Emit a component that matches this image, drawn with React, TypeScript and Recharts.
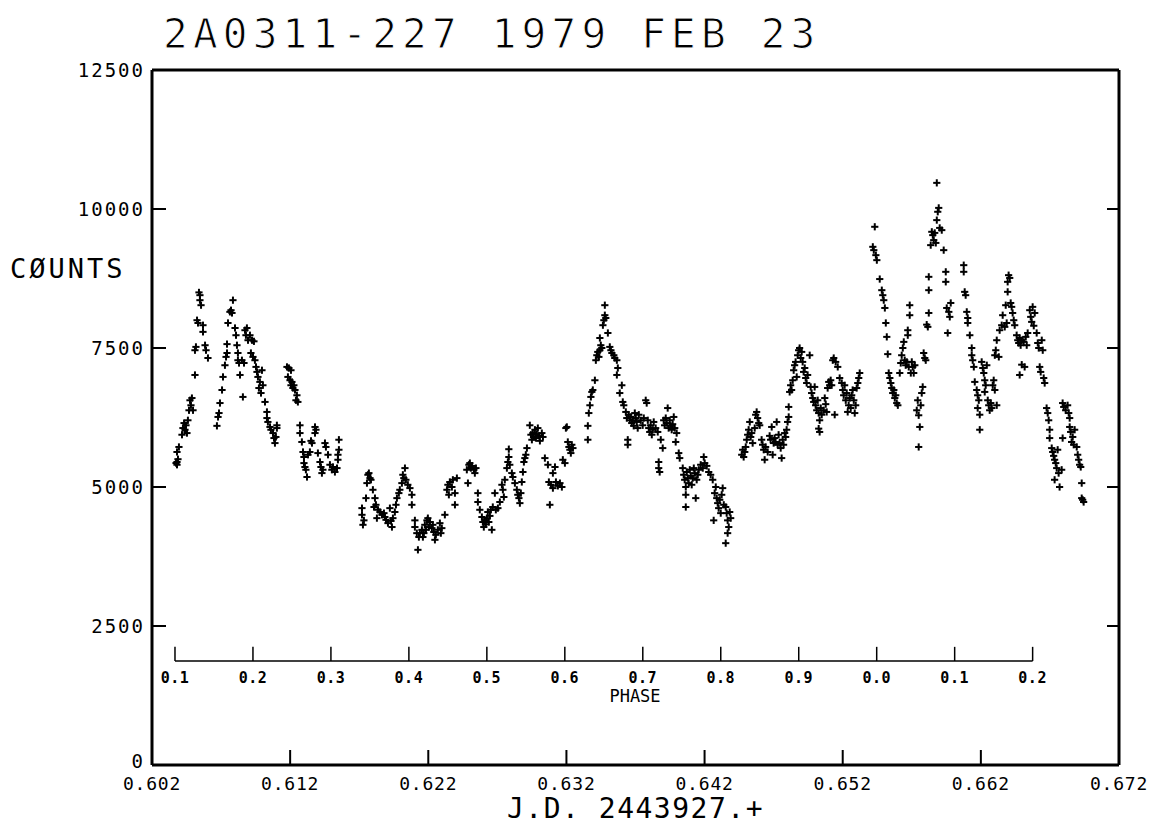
import { ScatterChart, Scatter, XAxis, YAxis, ReferenceLine } from 'recharts';

// [J.D. - 2443927, counts], one group per stretch of the light curve
const seg01 = [
  [0.60374, 5430], [0.60381, 5450], [0.60381, 5400], [0.60388, 5500], [0.60381, 5630], [0.60395, 5720],
  [0.60417, 5940], [0.60424, 6060], [0.60432, 6150], [0.60439, 6030], [0.60446, 6110], [0.60453, 5970],
  [0.6046, 6200], [0.60468, 6380], [0.60475, 6560], [0.60482, 6470], [0.60489, 6600], [0.60497, 6380],
  [0.60511, 7015], [0.60511, 7460], [0.60518, 7520], [0.60526, 8000], [0.60533, 7950], [0.6054, 8500],
  [0.60547, 8450], [0.60547, 8360], [0.60555, 8270], [0.60569, 7910], [0.60569, 7790], [0.60584, 7550],
  [0.60591, 7460], [0.60605, 7320],
];
const seg02 = [
  [0.6067, 6100], [0.60678, 6260], [0.60685, 6330], [0.60692, 6510], [0.60707, 6745], [0.60714, 6980],
  [0.60728, 7190], [0.60736, 7340], [0.60743, 7410], [0.60743, 7570], [0.6075, 7950], [0.60764, 8150],
  [0.60772, 8180], [0.60779, 8130], [0.60786, 8360], [0.60801, 7860], [0.60808, 7730], [0.60815, 7550],
  [0.60822, 7410], [0.60822, 7280], [0.6083, 7230], [0.60837, 7015], [0.60858, 6620], [0.60851, 7280],
  [0.60866, 7230], [0.60873, 7820], [0.6088, 7730], [0.60887, 7860], [0.60895, 7640], [0.60909, 7730],
  [0.60924, 7640], [0.60938, 7620], [0.60916, 7410], [0.60931, 7340], [0.60945, 7280], [0.60953, 7160],
  [0.6096, 7070], [0.60967, 6980], [0.60981, 6890], [0.60996, 7100], [0.60974, 6780], [0.60989, 6690],
  [0.61003, 6830], [0.61018, 6530], [0.61032, 6350], [0.61032, 6240], [0.61039, 6170], [0.61054, 6080],
  [0.61061, 6030], [0.61076, 5970], [0.61083, 5880], [0.6109, 5790], [0.61097, 5900], [0.61104, 6110],
  [0.61104, 6060],
];
const seg03 = [
  [0.61177, 7160], [0.61191, 7140], [0.61206, 7100], [0.61184, 6980], [0.61199, 6920], [0.61206, 6830],
  [0.61213, 6890], [0.6122, 6780], [0.61227, 6830], [0.61235, 6745], [0.61249, 6650], [0.61242, 6560],
  [0.61256, 6530],
];
const seg04 = [
  [0.61271, 6110], [0.61271, 5970], [0.61285, 5810], [0.61293, 5630], [0.613, 5540], [0.613, 5430],
  [0.61307, 5360], [0.61314, 5310], [0.61322, 5180], [0.61329, 5580], [0.61343, 5630], [0.61351, 5830],
  [0.61358, 5790], [0.6138, 6080], [0.6138, 5970], [0.61387, 6030], [0.61401, 5610], [0.61416, 5450],
  [0.61423, 5360], [0.6143, 5250], [0.61437, 5310], [0.61452, 5790], [0.61459, 5720], [0.61474, 5580],
  [0.61488, 5400], [0.61502, 5310], [0.6151, 5360], [0.61524, 5270], [0.61539, 5340], [0.61546, 5580],
  [0.61546, 5490], [0.61553, 5670], [0.61553, 5850],
];
const seg05 = [
  [0.6172, 4620], [0.6172, 4500], [0.61727, 4320], [0.61734, 4400], [0.61749, 4800], [0.61756, 5070],
  [0.61763, 5220], [0.6177, 5250], [0.61778, 5160], [0.61785, 5130], [0.61799, 4950], [0.61814, 4800],
  [0.61807, 4640], [0.61821, 4680], [0.61828, 4440], [0.61836, 4590], [0.6185, 4550], [0.61865, 4500],
  [0.61879, 4530], [0.61886, 4460], [0.61894, 4410], [0.61908, 4350], [0.61922, 4620], [0.6193, 4390],
  [0.61937, 4280], [0.61944, 4440], [0.61958, 4550], [0.61966, 4680], [0.61973, 4800], [0.61987, 4890],
  [0.61994, 4950], [0.62009, 5070], [0.62016, 5220], [0.62023, 5160], [0.62031, 5340], [0.62038, 5130],
  [0.62052, 5040], [0.62067, 4980], [0.62081, 4860], [0.62081, 4680], [0.62103, 4400], [0.62103, 4280],
  [0.62117, 4170], [0.62125, 3870], [0.62132, 4100], [0.62139, 4170], [0.62154, 4230], [0.62161, 4100],
  [0.62168, 4170], [0.62175, 4320], [0.62183, 4230], [0.6219, 4400], [0.62197, 4440], [0.62204, 4280],
  [0.62212, 4370], [0.62226, 4260], [0.62233, 4320], [0.6224, 4190], [0.62248, 4050], [0.62255, 4140],
  [0.62269, 4230], [0.62284, 4350], [0.62291, 4170], [0.62298, 4260], [0.6232, 4500], [0.62335, 4950],
  [0.62342, 5040], [0.62349, 4860], [0.62356, 5090], [0.62371, 5000], [0.62378, 5130], [0.62393, 4680],
  [0.62393, 4890], [0.62407, 5160],
];
const seg06 = [
  [0.62479, 5310], [0.62487, 5070], [0.62494, 5400], [0.62501, 5430], [0.62508, 5340], [0.62516, 5380],
  [0.6253, 5310], [0.62537, 5250], [0.62545, 5340], [0.62559, 4890], [0.62559, 4730], [0.62573, 4590],
  [0.62588, 4460], [0.62595, 4370], [0.62602, 4280], [0.6261, 4400], [0.62617, 4330], [0.62624, 4440],
  [0.62631, 4550], [0.62638, 4370], [0.62646, 4480], [0.62653, 4590], [0.6266, 4230], [0.62667, 4640],
  [0.62682, 4890], [0.62689, 4590], [0.62704, 4620], [0.62718, 4730], [0.62733, 5040], [0.6274, 4950],
  [0.62747, 4820], [0.62754, 5130], [0.62769, 5340], [0.62776, 5450], [0.62783, 5540], [0.62783, 5680],
  [0.6279, 5400], [0.62805, 5250], [0.62812, 5180], [0.62827, 5070], [0.62841, 4950], [0.62848, 4860],
  [0.62856, 4800], [0.62863, 4710], [0.6287, 4890], [0.62877, 5090], [0.62885, 5270], [0.62892, 5450],
  [0.62899, 5520], [0.62906, 5580], [0.62914, 5700], [0.62935, 6110], [0.62943, 5940], [0.6295, 5850],
  [0.62957, 5970], [0.62964, 5900], [0.62972, 6030], [0.62979, 5880], [0.62986, 5950], [0.62993, 6060],
  [0.63001, 5920], [0.63008, 5830], [0.63022, 5970], [0.6303, 5900], [0.63044, 5520], [0.63066, 5400],
  [0.63073, 5090], [0.6308, 4680], [0.63088, 5040], [0.63102, 5250], [0.63102, 4980], [0.63117, 5360],
  [0.63124, 5090], [0.63138, 5020], [0.63153, 5070], [0.63167, 5000], [0.63174, 5490], [0.63189, 5430],
  [0.63196, 6060], [0.63203, 6080], [0.6321, 5810], [0.63218, 5720], [0.63225, 5670], [0.63232, 5610],
  [0.63239, 5760], [0.63247, 5700],
];
const seg07 = [
  [0.63355, 5850], [0.63355, 6100], [0.63362, 6330], [0.6337, 6470], [0.63377, 6620], [0.63384, 6710],
  [0.63391, 6745], [0.63406, 6920], [0.63413, 7280], [0.6342, 7370], [0.63427, 7430], [0.63435, 7340],
  [0.63442, 7460], [0.63449, 7550], [0.63442, 7680], [0.63456, 7500], [0.63464, 7910], [0.63471, 8000],
  [0.63478, 8090], [0.63478, 8270], [0.63485, 8040], [0.635, 7770], [0.63514, 7520], [0.63522, 7460],
  [0.63529, 7410], [0.63543, 7370], [0.6355, 7320], [0.63565, 7280], [0.63572, 7140], [0.63565, 7015],
  [0.63586, 6690], [0.63601, 6830], [0.63608, 6530], [0.63615, 6470], [0.6363, 6350], [0.63637, 6240],
  [0.63644, 5850], [0.63644, 5760], [0.63651, 6300], [0.63659, 6200], [0.63666, 6260], [0.63673, 6150],
  [0.6368, 6200], [0.63687, 6100], [0.63695, 6330], [0.63702, 6240], [0.63709, 6170], [0.63716, 6060],
  [0.63724, 6300], [0.63738, 6200], [0.63752, 6110], [0.6376, 6240], [0.63774, 6560], [0.63781, 6510],
  [0.63789, 6200], [0.63796, 6060], [0.63803, 5990], [0.6381, 6110], [0.63818, 5940], [0.63825, 6030],
  [0.63832, 6170], [0.63846, 6060], [0.63861, 5990], [0.63868, 5450], [0.63868, 5340], [0.63875, 5270],
  [0.63883, 5850], [0.63897, 5700], [0.63904, 6200], [0.63911, 6110], [0.63919, 6240], [0.63926, 6150],
  [0.63933, 6420], [0.6394, 6060], [0.63948, 6200], [0.63955, 6100], [0.63962, 6030], [0.63969, 6130],
  [0.63977, 6260], [0.63984, 6060], [0.63991, 5810], [0.63998, 5970],
];
const seg08 = [
  [0.64013, 5610], [0.6402, 5520], [0.64042, 5340], [0.64049, 5220], [0.64056, 5130], [0.64064, 5000],
  [0.64064, 4860], [0.64064, 4640], [0.64071, 5270], [0.64078, 5160], [0.64085, 5070], [0.64093, 5310],
  [0.641, 5200], [0.64107, 5040], [0.64114, 5160], [0.64122, 5340], [0.64129, 5250], [0.64136, 4800],
  [0.64143, 5130], [0.64151, 5220], [0.64158, 5310], [0.64172, 5400], [0.64187, 5340], [0.64194, 5540],
  [0.64201, 5430], [0.64216, 5380], [0.6423, 5270], [0.64244, 5220], [0.64259, 5130], [0.64281, 5000],
  [0.64273, 4890], [0.64288, 4800], [0.64295, 4710], [0.64302, 4620], [0.6431, 4770], [0.64266, 4400],
  [0.64317, 4530], [0.64324, 4860], [0.64331, 4980], [0.64339, 4680], [0.64353, 4640], [0.6436, 4530],
  [0.64367, 4400], [0.64375, 4280], [0.64367, 4170], [0.64353, 3990], [0.64382, 4550], [0.64389, 4440],
];
const seg09 = [
  [0.64469, 5580], [0.64476, 5670], [0.64483, 5540], [0.64491, 5630], [0.64498, 5720], [0.64505, 5850],
  [0.64512, 5940], [0.64519, 6030], [0.64527, 6170], [0.64534, 5900], [0.64541, 5970], [0.64548, 5790],
  [0.64563, 6060], [0.6457, 6300], [0.64577, 6350], [0.64584, 6240], [0.64592, 6150], [0.64599, 6110],
  [0.64613, 5850], [0.6462, 5760], [0.64628, 5670], [0.64635, 5490], [0.64642, 5720], [0.64657, 5630],
  [0.64671, 5920], [0.64678, 5850], [0.64686, 6080], [0.64693, 5580], [0.647, 5790], [0.64707, 5880],
  [0.64714, 5810], [0.64722, 6170], [0.64729, 5760], [0.64736, 5940], [0.64743, 5790], [0.64751, 5700],
  [0.64758, 5520], [0.64765, 5850], [0.64772, 5760], [0.6478, 5970], [0.64787, 5900], [0.64794, 6030],
  [0.64801, 6170], [0.64809, 6260], [0.64809, 6440], [0.64816, 6710], [0.64823, 6830], [0.6483, 6745],
  [0.64838, 6920], [0.64845, 7100], [0.64852, 7190], [0.64859, 7250], [0.64867, 6980], [0.64874, 7370],
  [0.64881, 7460], [0.64888, 7500], [0.64896, 7320], [0.64903, 7430], [0.6491, 7250], [0.64917, 7070],
  [0.64925, 7140], [0.64932, 6960], [0.64939, 6870], [0.64946, 7015], [0.64961, 7370], [0.64968, 6800],
  [0.64975, 6690], [0.64983, 6600], [0.6499, 6530], [0.64997, 6800], [0.65004, 6470], [0.65012, 6380],
  [0.65019, 6560], [0.65026, 6330], [0.65033, 6200], [0.65026, 6050], [0.65033, 5990], [0.65041, 6420],
  [0.65048, 6300], [0.65062, 6380], [0.6507, 6600], [0.65077, 6490], [0.65084, 6350], [0.65091, 6780],
  [0.65099, 6890], [0.65106, 6830], [0.65113, 6920], [0.6512, 6830], [0.65128, 7280], [0.65135, 7320],
  [0.65142, 6300], [0.65149, 7250], [0.65164, 7160], [0.65178, 6960], [0.65193, 6870], [0.652, 6745],
  [0.65207, 6650], [0.65214, 6830], [0.65222, 6560], [0.65229, 6690], [0.65236, 6350], [0.65243, 6470],
  [0.65251, 6600], [0.65258, 6420], [0.65265, 6650], [0.65272, 6745], [0.6528, 6560], [0.65287, 6330],
  [0.65294, 6470], [0.65301, 6780], [0.65309, 6870], [0.65316, 6960], [0.65323, 7050],
];
const seg10 = [
  [0.65418, 9320], [0.65425, 9260], [0.65432, 9680], [0.6544, 9170], [0.65447, 9080], [0.65468, 8740],
  [0.65483, 8540], [0.6549, 8450], [0.65497, 8360], [0.65505, 8220], [0.65512, 7950], [0.65519, 7700],
  [0.65526, 7390], [0.65533, 7050], [0.65541, 6960], [0.65548, 6870], [0.65555, 6780], [0.65562, 6690],
  [0.6557, 6745], [0.65577, 6600], [0.65584, 6650], [0.65591, 6510], [0.65599, 6470], [0.65613, 7050],
  [0.6562, 7230], [0.65627, 7370], [0.65635, 7500], [0.65642, 7610], [0.65649, 7280], [0.65656, 7190],
  [0.65664, 7250], [0.65671, 7730], [0.65671, 7820], [0.65678, 7160], [0.65685, 8270], [0.65685, 8090],
  [0.65693, 7050], [0.657, 7250], [0.65707, 7160], [0.65714, 7050], [0.65722, 7190], [0.65736, 6380],
  [0.65743, 6560], [0.6575, 5720], [0.6575, 6290], [0.65758, 6080], [0.65765, 6470], [0.65772, 6690],
  [0.65779, 6800], [0.65786, 7410], [0.65794, 7320], [0.65801, 7280], [0.65808, 7920], [0.65816, 7880],
  [0.65823, 8130], [0.65823, 8540], [0.65823, 8780], [0.65837, 9350], [0.65845, 9590], [0.65852, 9530],
  [0.65859, 9440], [0.65866, 9570], [0.65874, 9390], [0.65881, 9800], [0.65888, 9950], [0.65895, 10020],
  [0.65881, 10470], [0.65902, 9660], [0.65917, 9620], [0.65931, 9260], [0.65946, 8870], [0.65946, 8690],
  [0.65953, 8220], [0.65968, 8150], [0.65982, 8310], [0.65975, 8060], [0.6596, 7770],
];
const seg11 = [
  [0.66076, 8990], [0.66076, 8870], [0.66083, 8510], [0.6609, 8450], [0.66098, 8150], [0.66105, 8040],
  [0.66105, 7950], [0.6612, 7730], [0.66134, 7500], [0.66134, 7370], [0.66141, 7280], [0.66149, 7160],
  [0.66156, 6890], [0.6617, 6745], [0.66177, 6650], [0.66185, 6560], [0.66177, 6420], [0.66192, 6300],
  [0.66192, 6030], [0.66206, 7250], [0.66214, 7140], [0.66221, 7050], [0.66228, 6920], [0.66235, 6830],
  [0.66228, 6710], [0.66243, 7190], [0.6625, 6560], [0.66257, 6470], [0.66264, 6380], [0.66272, 6510],
  [0.66279, 6420], [0.66286, 6830], [0.66293, 6920], [0.66301, 6745], [0.66315, 6470], [0.66301, 7370],
  [0.66308, 7460], [0.66315, 7640], [0.6633, 7340], [0.66336, 7820], [0.66351, 7910], [0.66358, 8090],
  [0.66373, 7880], [0.6638, 8270], [0.66387, 7950], [0.66394, 8510], [0.66394, 8690], [0.66401, 8810],
  [0.66409, 8760], [0.66416, 8310], [0.66423, 8240], [0.6643, 8130], [0.66438, 8000], [0.66445, 7910],
  [0.66459, 7730], [0.66467, 7640], [0.66474, 7590], [0.66481, 7015], [0.66481, 7680], [0.66488, 7550],
  [0.66496, 7640], [0.66496, 7200], [0.6651, 7610], [0.66517, 7160], [0.66525, 7700], [0.66532, 7550],
  [0.66539, 7770], [0.66554, 8180], [0.66561, 8060], [0.66568, 7970], [0.66575, 8240], [0.66583, 7900],
  [0.6659, 8130], [0.66604, 7770], [0.66612, 7590], [0.66619, 7500], [0.66626, 7160], [0.66633, 7070],
  [0.66641, 7640], [0.66648, 7460], [0.66655, 6960], [0.66662, 6870],
];
const seg12 = [
  [0.66676, 6420], [0.66684, 6330], [0.66691, 6200], [0.66698, 6030], [0.66698, 5880], [0.66713, 5700],
  [0.6672, 5630], [0.66727, 5560], [0.66734, 5490], [0.66734, 5130], [0.66742, 5430], [0.66749, 5340],
  [0.66756, 5670], [0.66763, 5250], [0.6677, 5000], [0.66785, 5310], [0.66792, 6510], [0.66792, 5880],
  [0.668, 6440], [0.66814, 6380], [0.66828, 6470], [0.66836, 6330], [0.66843, 6240], [0.66843, 6080],
  [0.6685, 5990], [0.66857, 5810], [0.66865, 5900], [0.66872, 5760], [0.66879, 6030], [0.66894, 5720],
  [0.66901, 5580], [0.66908, 5490], [0.66915, 5400], [0.66923, 5360], [0.6693, 5070], [0.6693, 4800],
  [0.66937, 4770], [0.66944, 4730],
];

const JD_TICKS = [0.602, 0.612, 0.622, 0.632, 0.642, 0.652, 0.662, 0.672];
const COUNT_TICKS = [0, 2500, 5000, 7500, 10000, 12500];

// orbital phase scale drawn inside the frame
const PHASE_EPOCH = 0.65446; // J.D. fraction of phase 0.0
const PERIOD = 0.05644; // days
const PHASE_STEPS = [-0.9, -0.8, -0.7, -0.6, -0.5, -0.4, -0.3, -0.2, -0.1, 0, 0.1, 0.2];
const PHASE_LABELS = ['0.1', '0.2', '0.3', '0.4', '0.5', '0.6', '0.7', '0.8', '0.9', '0.0', '0.1', '0.2'];
const PHASE_AXIS_Y = 1870;
const PHASE_TICK_Y = 2125;

const points = [seg01, seg02, seg03, seg04, seg05, seg06, seg07, seg08, seg09, seg10, seg11, seg12]
  .flat()
  .map(([jd, counts]) => ({ jd, counts }));

const phaseJd = PHASE_STEPS.map((p) => PHASE_EPOCH + p * PERIOD);

const MONO = '"DejaVu Sans Mono", monospace';
const frame = { stroke: '#000', strokeWidth: 3 };
const tickLn = { stroke: '#000', strokeWidth: 2 };

const Plus = (props: any) => {
  const { cx, cy } = props;
  if (cx == null || cy == null) return null;
  const r = 3.6;
  return (
    <g stroke="#000" strokeWidth={2}>
      <line x1={cx - r} y1={cy} x2={cx + r} y2={cy} />
      <line x1={cx} y1={cy - r} x2={cx} y2={cy + r} />
    </g>
  );
};

// counts labels; the "0" sits a touch above the frame corner as in the plot
const CountTick = (props: any) => {
  const { x, y, payload } = props;
  return (
    <text
      x={x}
      y={payload.value === 0 ? y - 4 : y}
      dy="0.36em"
      textAnchor="end"
      fill="#000"
      fontSize={19}
      fontFamily={MONO}
      letterSpacing={2}
    >
      {payload.value}
    </text>
  );
};

export default function App() {
  return (
    <div style={{ position: 'absolute', left: 0, top: 0, width: 1159, height: 825, background: '#fff' }}>
      <ScatterChart width={1159} height={825} margin={{ top: 69, right: 0, bottom: 0, left: 0 }}>
        <XAxis
          xAxisId="b"
          dataKey="jd"
          type="number"
          domain={[0.602, 0.672]}
          ticks={JD_TICKS}
          allowDataOverflow
          tickFormatter={(v: number) => v.toFixed(3)}
          height={60}
          axisLine={frame}
          tickLine={tickLn}
          tickSize={-15}
          tickMargin={27}
          tick={{ fill: '#000', fontSize: 18, fontFamily: MONO, letterSpacing: 0.8 }}
        />
        <XAxis
          xAxisId="t"
          orientation="top"
          type="number"
          domain={[0.602, 0.672]}
          ticks={JD_TICKS}
          allowDataOverflow
          tickFormatter={() => ''}
          height={1}
          axisLine={frame}
          tickLine={tickLn}
          tickSize={-13}
        />
        <YAxis
          yAxisId="l"
          dataKey="counts"
          type="number"
          domain={[0, 12500]}
          ticks={COUNT_TICKS}
          allowDataOverflow
          width={152}
          axisLine={frame}
          tickLine={tickLn}
          tickSize={-14}
          tickMargin={21}
          tick={<CountTick />}
        />
        <YAxis
          yAxisId="r"
          orientation="right"
          type="number"
          domain={[0, 12500]}
          ticks={COUNT_TICKS}
          allowDataOverflow
          tickFormatter={() => ''}
          width={40}
          axisLine={frame}
          tickLine={tickLn}
          tickSize={-12}
        />
        <ReferenceLine
          xAxisId="b"
          yAxisId="l"
          segment={[
            { x: phaseJd[0], y: PHASE_AXIS_Y },
            { x: phaseJd[phaseJd.length - 1], y: PHASE_AXIS_Y },
          ]}
          stroke="#000"
          strokeWidth={1.5}
        />
        {phaseJd.map((jd, i) => (
          <ReferenceLine
            key={i}
            xAxisId="b"
            yAxisId="l"
            segment={[
              { x: jd, y: PHASE_AXIS_Y },
              { x: jd, y: PHASE_TICK_Y },
            ]}
            stroke="#000"
            strokeWidth={1.5}
            label={{
              value: PHASE_LABELS[i],
              position: 'bottom',
              offset: 11,
              fill: '#000',
              fontSize: 15,
              fontWeight: 700,
              letterSpacing: 0.5,
              fontFamily: MONO,
            }}
          />
        ))}
        <Scatter xAxisId="b" yAxisId="l" data={points} shape={Plus} isAnimationActive={false} />
      </ScatterChart>
      <svg
        width={1159}
        height={825}
        style={{ position: 'absolute', left: 0, top: 0, pointerEvents: 'none' }}
      >
        <text x={163} y={48} fontFamily={MONO} fontSize={41} letterSpacing={5.2} fill="#000" stroke="#fff" strokeWidth={1}>
          2A0311-227 1979 FEB 23
        </text>
        <text x={10} y={278} fontFamily={MONO} fontSize={27} letterSpacing={3} fill="#000">
          CØUNTS
        </text>
        <text x={635} y={702} fontFamily={MONO} fontSize={17} textAnchor="middle" fill="#000">
          PHASE
        </text>
        <text x={507} y={818} fontFamily={MONO} fontSize={28} letterSpacing={1.5} fill="#000">
          J.D. 2443927.+
        </text>
      </svg>
    </div>
  );
}
